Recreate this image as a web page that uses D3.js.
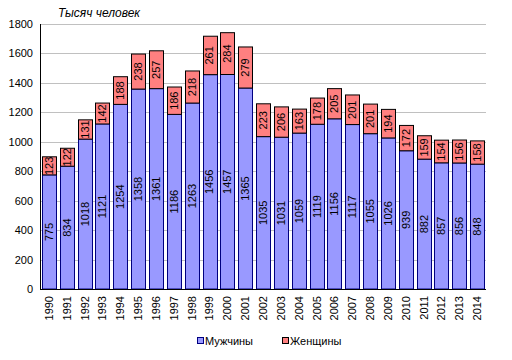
<!DOCTYPE html>
<html><head><meta charset="utf-8">
<script src="https://cdn.jsdelivr.net/npm/d3@7"></script>
<style>body{margin:0;background:#fff}svg{display:block}text{font-family:"Liberation Sans",Arial,sans-serif}</style>
</head><body><svg id="c" width="512" height="360"></svg>
<script>
const years = ["1990","1991","1992","1993","1994","1995","1996","1997","1998","1999","2000","2001","2002","2003","2004","2005","2006","2007","2008","2009","2010","2011","2012","2013","2014"];
const men = [775,834,1018,1121,1254,1358,1361,1186,1263,1456,1457,1365,1035,1031,1059,1119,1156,1117,1055,1026,939,882,857,856,848];
const women = [123,122,131,142,188,238,257,186,218,261,284,279,223,206,163,178,205,201,201,194,172,159,154,156,158];
const yTicks = [0,200,400,600,800,1000,1200,1400,1600,1800];
const seriesNames = ["Мужчины","Женщины"];

const svg = d3.select("#c");
const L=40,R=486,T=24,B=289;
const x = d3.scaleBand().domain(years).range([L,R]).paddingInner(0.22).paddingOuter(0.11);
const y = d3.scaleLinear().domain([0,1800]).range([B,T]);

// gridlines
svg.append("g").selectAll("line").data(yTicks.filter(d=>d>0)).join("line")
  .attr("x1",L).attr("x2",R).attr("y1",d=>Math.round(y(d))+0.5).attr("y2",d=>Math.round(y(d))+0.5)
  .attr("stroke","#c0c0c0").attr("stroke-width",1);

// y labels
svg.append("g").selectAll("text").data(yTicks).join("text")
  .attr("x",L-7).attr("y",d=>y(d)+4).attr("text-anchor","end").attr("font-size",11).attr("fill","#000")
  .text(d=>d);

const data = years.map((yr,i)=>({yr,m:men[i],w:women[i]}));
const g = svg.append("g");
// men bars
g.selectAll("rect.m").data(data).join("rect").attr("class","m")
  .attr("x",d=>Math.round(x(d.yr))+0.5).attr("width",Math.round(x.bandwidth()))
  .attr("y",d=>y(d.m)).attr("height",d=>B-y(d.m))
  .attr("fill","#9999ff").attr("stroke","#000080").attr("stroke-width",1);
// women bars
g.selectAll("rect.w").data(data).join("rect").attr("class","w")
  .attr("x",d=>Math.round(x(d.yr))+0.5).attr("width",Math.round(x.bandwidth()))
  .attr("y",d=>y(d.m+d.w)).attr("height",d=>y(d.m)-y(d.m+d.w))
  .attr("fill","#ff8080").attr("stroke","#000").attr("stroke-width",1);

// labels
const lab = (val, mid) => null;
g.selectAll("text.ml").data(data).join("text").attr("class","ml")
  .attr("transform",d=>`translate(${x(d.yr)+x.bandwidth()/2+4},${y(d.m/2)}) rotate(-90)`)
  .attr("text-anchor","middle").attr("font-size",11).text(d=>d.m);
g.selectAll("text.wl").data(data).join("text").attr("class","wl")
  .attr("transform",d=>`translate(${x(d.yr)+x.bandwidth()/2+4},${y(d.m+d.w/2)}) rotate(-90)`)
  .attr("text-anchor","middle").attr("font-size",11).text(d=>d.w);

// axes lines
svg.append("line").attr("x1",L+0.5).attr("x2",L+0.5).attr("y1",T).attr("y2",B).attr("stroke","#000");
svg.append("line").attr("x1",L).attr("x2",R).attr("y1",B+0.5).attr("y2",B+0.5).attr("stroke","#000");

// x labels
svg.append("g").selectAll("text").data(years).join("text")
  .attr("transform",d=>`translate(${x(d)+x.bandwidth()/2+4},${B+7}) rotate(-90)`)
  .attr("text-anchor","end").attr("font-size",11).text(d=>d);

// title
svg.append("text").attr("x",58).attr("y",17).attr("font-size",12).attr("font-style","italic").text("Тысяч человек");

// legend
const leg = [{n:seriesNames[0],c:"#9999ff",s:"#000080",x:197},{n:seriesNames[1],c:"#ff8080",s:"#000",x:282}];
const lg = svg.append("g").selectAll("g").data(leg).join("g");
lg.append("rect").attr("x",d=>d.x+0.5).attr("y",337.5).attr("width",6).attr("height",6).attr("fill",d=>d.c).attr("stroke",d=>d.s);
lg.append("text").attr("x",d=>d.x+8).attr("y",345).attr("font-size",11).text(d=>d.n);
</script></body></html>
